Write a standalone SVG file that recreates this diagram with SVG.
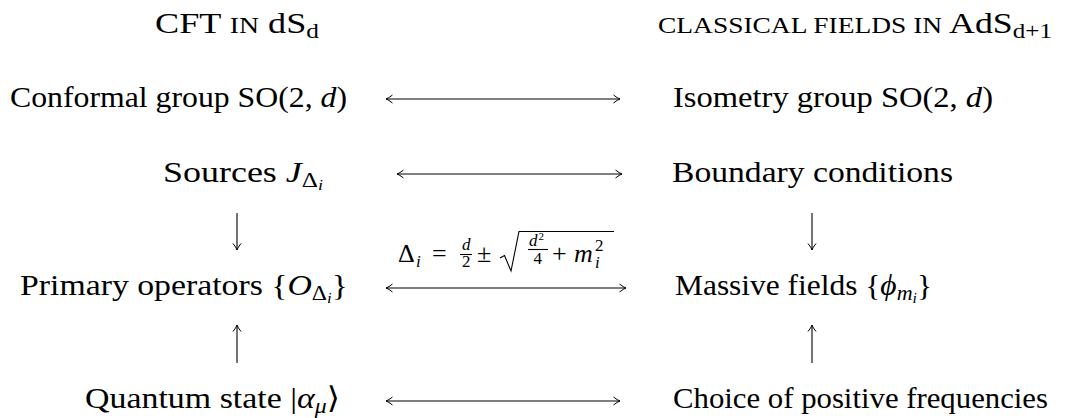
<svg xmlns="http://www.w3.org/2000/svg" width="1078" height="418" viewBox="0 0 1078 418">
<style>
.t{font-family:"Liberation Serif","DejaVu Serif",serif;font-size:30px;fill:#000}
.f{font-family:"Liberation Serif","DejaVu Serif",serif;font-size:26px;fill:#000}
.s{font-family:"Liberation Serif","DejaVu Serif",serif;font-size:17px;fill:#000}
.i{font-style:italic}
.c{stroke:#000;stroke-width:1.1;fill:none}
</style>
<defs>
<marker id="h" viewBox="-8 -5 9 10" markerWidth="9" markerHeight="10" refX="0" refY="0" orient="auto-start-reverse" markerUnits="userSpaceOnUse">
<path d="M-6.5,-4 Q-2.5,-0.8 0,0 Q-2.5,0.8 -6.5,4" stroke="#000" stroke-width="1" fill="none"/>
</marker>
</defs>
<g id="header-left"><text class="t" x="155" y="33" textLength="164" lengthAdjust="spacingAndGlyphs">CFT <tspan font-size="23">IN</tspan> dS<tspan font-size="21" dy="5">d</tspan></text></g>
<g id="header-right"><text class="t" x="658" y="33" textLength="394" lengthAdjust="spacingAndGlyphs"><tspan font-size="23">CLASSICAL FIELDS IN</tspan> AdS<tspan font-size="21" dy="5">d+1</tspan></text></g>
<g id="conformal"><text class="t" x="10" y="107" textLength="337" lengthAdjust="spacingAndGlyphs">Conformal group SO(2, <tspan class="i">d</tspan>)</text></g>
<g id="isometry"><text class="t" x="673" y="107" textLength="320" lengthAdjust="spacingAndGlyphs">Isometry group SO(2, <tspan class="i">d</tspan>)</text></g>
<g id="sources"><text class="t" x="163" y="182" textLength="160" lengthAdjust="spacingAndGlyphs">Sources <tspan class="i">J</tspan><tspan font-size="21" dy="5">Δ</tspan><tspan class="i" font-size="15" dy="3">i</tspan></text></g>
<g id="boundary"><text class="t" x="672" y="182" textLength="281" lengthAdjust="spacingAndGlyphs">Boundary conditions</text></g>
<g id="primary"><text class="t" x="20" y="295" textLength="328" lengthAdjust="spacingAndGlyphs">Primary operators {<tspan class="i">O</tspan><tspan font-size="21" dy="5">Δ</tspan><tspan class="i" font-size="15" dy="3">i</tspan><tspan dy="-8">}</tspan></text></g>
<g id="massive"><text class="t" x="675" y="295" textLength="257" lengthAdjust="spacingAndGlyphs">Massive fields {<tspan class="i">ϕ</tspan><tspan class="i" font-size="21" dy="5">m</tspan><tspan class="i" font-size="15" dy="3">i</tspan><tspan dy="-8">}</tspan></text></g>
<g id="quantum"><text class="t" x="85" y="408" textLength="255" lengthAdjust="spacingAndGlyphs">Quantum state |<tspan class="i">α</tspan><tspan class="i" font-size="21" dy="5">μ</tspan><tspan dy="-5">⟩</tspan></text></g>
<g id="choice"><text class="t" x="673" y="408" textLength="375" lengthAdjust="spacingAndGlyphs">Choice of positive frequencies</text></g>
<g id="label">
<text class="f" x="398" y="262">Δ</text><text class="s i" x="416" y="267">i</text>
<text class="f" x="432" y="262">=</text>
<text class="s i" x="462" y="250">d</text><line class="c" x1="460" y1="254.5" x2="472" y2="254.5" stroke-width="0.8"/><text class="s" x="462" y="267">2</text>
<text class="f" x="477" y="262">±</text>
<path class="c" d="M500,258 L504.5,255.5 L511,271 L519,231.5 L614,231.5" stroke-width="1"/>
<text class="s i" x="529" y="246">d</text><text font-family="Liberation Serif" font-size="11" x="538.5" y="240">2</text><line class="c" x1="528" y1="249.5" x2="548" y2="249.5" stroke-width="0.8"/><text class="s" x="533.5" y="264">4</text>
<text class="f" x="552" y="262">+</text>
<text class="f i" x="574" y="262">m</text><text class="s" x="595" y="251">2</text><text class="s i" x="595" y="268">i</text>
</g>
<g id="connectors">
<line class="c" x1="386" y1="99" x2="620" y2="99" marker-start="url(#h)" marker-end="url(#h)"/>
<line class="c" x1="397" y1="174" x2="622" y2="174" marker-start="url(#h)" marker-end="url(#h)"/>
<line class="c" x1="386" y1="288" x2="626" y2="288" marker-start="url(#h)" marker-end="url(#h)"/>
<line class="c" x1="386" y1="401" x2="620" y2="401" marker-start="url(#h)" marker-end="url(#h)"/>
<line class="c" x1="237" y1="213" x2="237" y2="250" marker-end="url(#h)"/>
<line class="c" x1="812" y1="213" x2="812" y2="250" marker-end="url(#h)"/>
<line class="c" x1="237" y1="363" x2="237" y2="325" marker-end="url(#h)"/>
<line class="c" x1="812" y1="363" x2="812" y2="325" marker-end="url(#h)"/>
</g>
</svg>
